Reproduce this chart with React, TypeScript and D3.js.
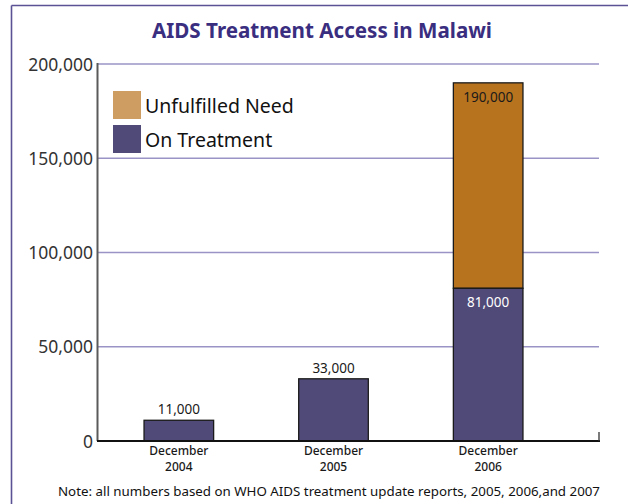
import React from "react";
import * as d3 from "d3";

// Malawi antiretroviral treatment coverage, December of each year
const categories = ["December 2004", "December 2005", "December 2006"];
const onTreatment = [11000, 33000, 81000];
const totalNeed = [null, null, 190000];
const yTicks = [0, 50000, 100000, 150000, 200000];
const seriesNames = ["Unfulfilled Need", "On Treatment"];

const W = 628;
const H = 504;
const FONT = "'Noto Sans', 'DejaVu Sans', sans-serif";

const COLORS = {
  frame: "#5B5295",
  title: "#3A2E80",
  grid: "#9A94C6",
  treatment: "#504A78",
  unmet: "#B8731E",
  unmetLegend: "#CD9D62",
  text: "#222",
};

export default function App() {
  const y = d3.scaleLinear().domain([0, 200000]).range([441, 64]);
  const x = d3
    .scaleBand<string>()
    .domain(categories)
    .range([101.5, 565.5])
    .paddingInner(0.55)
    .paddingOuter(0.275);

  const fmt = d3.format(",");

  const rows = categories.map((c, i) => ({
    cat: c,
    treat: onTreatment[i],
    total: totalNeed[i],
  }));

  return (
    <div style={{ position: "absolute", left: 0, top: 0 }}>
      <svg width={W} height={H} style={{ display: "block", background: "#fff" }}>
        {/* frame */}
        <line x1={11.5} y1={5.5} x2={W} y2={5.5} stroke={COLORS.frame} strokeWidth={1.6} />
        <line x1={11.5} y1={5.5} x2={11.5} y2={H} stroke={COLORS.frame} strokeWidth={1.6} />

        <text
          x={322}
          y={38}
          textAnchor="middle"
          fontFamily={FONT}
          fontWeight={700}
          fontSize={20.5}
          textLength={340}
          lengthAdjust="spacingAndGlyphs"
          fill={COLORS.title}
        >
          AIDS Treatment Access in Malawi
        </text>

        {/* gridlines */}
        {yTicks
          .filter((t) => t > 0)
          .map((t) => (
            <line
              key={t}
              x1={97.5}
              x2={599}
              y1={y(t)}
              y2={y(t)}
              stroke={COLORS.grid}
              strokeWidth={1.3}
            />
          ))}

        {/* y tick labels */}
        {yTicks.map((t) => (
          <text
            key={t}
            x={93}
            y={y(t) + 6.5}
            textAnchor="end"
            fontFamily={FONT}
            fontSize={17.5}
            fill="#333"
          >
            {fmt(t)}
          </text>
        ))}

        {/* bars */}
        {rows.map((r) => {
          const bx = x(r.cat)!;
          const bw = x.bandwidth();
          return (
            <g key={r.cat}>
              {r.total != null && (
                <rect
                  x={bx}
                  y={y(r.total)}
                  width={bw}
                  height={y(r.treat) - y(r.total)}
                  fill={COLORS.unmet}
                  stroke="#1a1a1a"
                  strokeWidth={1.3}
                />
              )}
              <rect
                x={bx}
                y={y(r.treat)}
                width={bw}
                height={y(0) - y(r.treat)}
                fill={COLORS.treatment}
                stroke="#1a1a1a"
                strokeWidth={1.3}
              />
              {r.total != null ? (
                <>
                  <text
                    x={bx + bw / 2}
                    y={y(r.total) + 19}
                    textAnchor="middle"
                    fontFamily={FONT}
                    fontSize={13.5}
                    fill="#1a1a1a"
                  >
                    {fmt(r.total)}
                  </text>
                  <text
                    x={bx + bw / 2}
                    y={y(r.treat) + 19}
                    textAnchor="middle"
                    fontFamily={FONT}
                    fontSize={13.5}
                    fill="#fff"
                  >
                    {fmt(r.treat)}
                  </text>
                </>
              ) : (
                <text
                  x={bx + bw / 2}
                  y={y(r.treat) - 6}
                  textAnchor="middle"
                  fontFamily={FONT}
                  fontSize={13.5}
                  fill="#1a1a1a"
                >
                  {fmt(r.treat)}
                </text>
              )}
              {r.cat.split(" ").map((part, j) => (
                <text
                  key={part}
                  x={bx + bw / 2}
                  y={455 + j * 15.5}
                  textAnchor="middle"
                  fontFamily={FONT}
                  fontWeight={500}
                  fontSize={12}
                  fill="#1a1a1a"
                >
                  {part}
                </text>
              ))}
            </g>
          );
        })}

        {/* axes */}
        <line x1={97.5} y1={63} x2={97.5} y2={441} stroke="#5a5a5a" strokeWidth={2} />
        <line x1={97} y1={441} x2={600} y2={441} stroke="#111" strokeWidth={2} />
        <line x1={599} y1={432} x2={599} y2={441} stroke="#333" strokeWidth={1.3} />

        {/* legend */}
        {seriesNames.map((name, i) => (
          <g key={name}>
            <rect
              x={113}
              y={91 + i * 34}
              width={28}
              height={28}
              fill={i === 0 ? COLORS.unmetLegend : COLORS.treatment}
            />
            <text
              x={145}
              y={113 + i * 34}
              fontFamily={FONT}
              fontSize={19.5}
              fill="#111"
            >
              {name}
            </text>
          </g>
        ))}

        <text
          x={329}
          y={496}
          textAnchor="middle"
          fontFamily={FONT}
          fontSize={13}
          textLength={542}
          lengthAdjust="spacingAndGlyphs"
          fill="#111"
        >
          Note: all numbers based on WHO AIDS treatment update reports, 2005, 2006,and 2007
        </text>
      </svg>
    </div>
  );
}
